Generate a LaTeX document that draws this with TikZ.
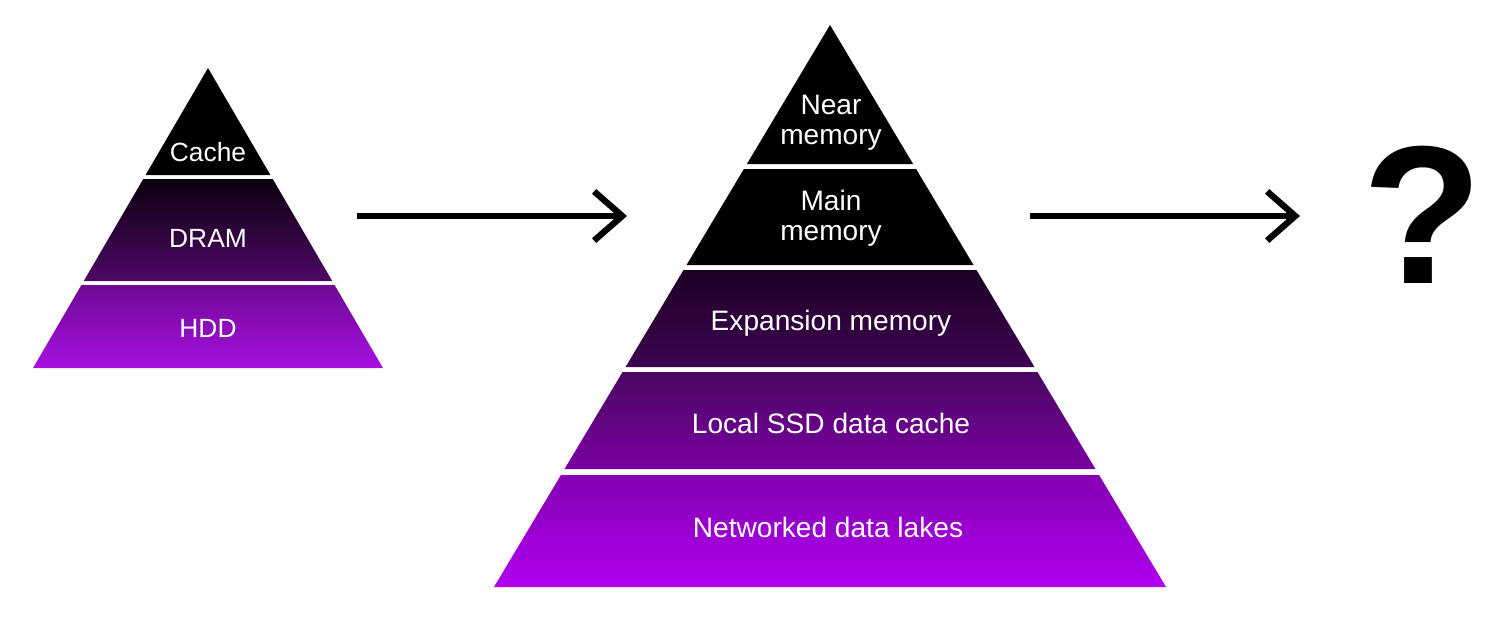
\documentclass[tikz,border=0pt]{standalone}
\usepackage{fontspec}
\setmainfont{Liberation Sans}
\usetikzlibrary{arrows.meta}
\usetikzlibrary{calc}

\definecolor{pa}{HTML}{1C0024}
\definecolor{pb}{HTML}{3F0552}
\definecolor{pc}{HTML}{4A0862}
\definecolor{pd}{HTML}{7A00A2}
\definecolor{pe}{HTML}{8400B0}
\definecolor{pf}{HTML}{B000F0}
\definecolor{ps}{HTML}{0C000E}
\definecolor{pg}{HTML}{4E0866}
\definecolor{ph}{HTML}{6E0A94}
\definecolor{pi}{HTML}{A810E0}

\tikzset{
  lbl/.style={text=white,align=center,font=\fontsize{16}{17}\selectfont},
  slbl/.style={text=white,align=center,font=\fontsize{15}{17}\selectfont},
  flow/.style={line width=3.6pt,-{Straight Barb[length=16pt,width=28pt,line width=3.6pt]}},
}

% band: cx, apex y, half-width per px, top y, bottom y, top colour, bottom colour
\newcommand{\band}[7]{
  \shade[top color=#6,bottom color=#7]
    ({#1-#3*(#4-#2)},#4) -- ({#1+#3*(#4-#2)},#4) --
    ({#1+#3*(#5-#2)},#5) -- ({#1-#3*(#5-#2)},#5) -- cycle;
}

\begin{document}
\begin{tikzpicture}[x=0.02cm,y=-0.02cm]
  \useasboundingbox (0,0) rectangle (1500,616);

  % small pyramid
  \band{208}{68}{0.5833}{68}{175}{black}{black}
  \band{208}{68}{0.5833}{179}{281}{ps}{pg}
  \band{208}{68}{0.5833}{285}{368}{ph}{pi}
  \node[slbl] (cache) at (208,152) {Cache};
  \node[slbl] (dram) at (208,238) {DRAM};
  \node[slbl] (hdd) at (208,328) {HDD};

  % large pyramid
  \band{830}{25}{0.5979}{25}{164}{black}{black}
  \band{830}{25}{0.5979}{169}{265}{black}{black!90!pa}
  \band{830}{25}{0.5979}{270}{367}{pa}{pb}
  \band{830}{25}{0.5979}{372}{469}{pc}{pd}
  \band{830}{25}{0.5979}{475}{587}{pe}{pf}
  \node[lbl] (near) at (831,123) {Near\\memory};
  \node[lbl] (main) at (831,218) {Main\\memory};
  \node[lbl] (exp) at (831,323) {Expansion memory};
  \node[lbl] (ssd) at (831,423) {Local SSD data cache};
  \node[lbl] (lake) at (828,527) {Networked data lakes};

  \node[font=\bfseries\fontsize{112}{114}\selectfont] (qm) at (1423,215) {?};

  \coordinate (a1) at (357,216);
  \coordinate (a2) at (627,216);
  \coordinate (b1) at (1030,216);
  \coordinate (b2) at (1300,216);
  \draw[flow] (a1) -- (a2);
  \draw[flow] (b1) -- (b2);
\end{tikzpicture}
\end{document}
